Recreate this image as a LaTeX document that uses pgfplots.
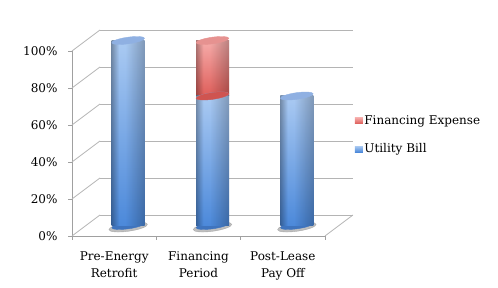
\documentclass[border=0pt]{standalone}
\usepackage{pgfplots}
\pgfplotsset{compat=1.18}
\usepackage{fontspec}
\setmainfont{DejaVu Serif}
\definecolor{gridgray}{HTML}{B4B4B4}
\definecolor{axgray}{HTML}{A0A0A0}
\definecolor{bTop}{HTML}{AACAF2}
\definecolor{bBot}{HTML}{4C89DA}
\definecolor{bBotE}{HTML}{3F74BE}
\definecolor{bCap}{HTML}{8FB0E2}
\definecolor{rTop}{HTML}{F6ACAA}
\definecolor{rBot}{HTML}{DE5E5A}
\definecolor{rBotE}{HTML}{CF5450}
\definecolor{rCap}{HTML}{E69290}
\pgfdeclarehorizontalshading{cylshade}{100bp}{color(0bp)=(black!30); color(25bp)=(black!30); color(36bp)=(white); color(46bp)=(white); color(75bp)=(black!24); color(100bp)=(black!24)}
\pgfplotsset{
  cyl/.style={width=253pt, height=185pt, scale only axis, xmin=-0.5, xmax=2.5,
    ymin=0, ymax=100, clip=false, anchor=south west, at={(86pt,62.5pt)},
    axis line style={draw=none}, xtick=\empty, ytick=\empty},
  bluebody/.style={draw=none, bar shift=0pt, top color=bTop, bottom color=bBot},
  redbody/.style={draw=none, bar shift=0pt, top color=rTop, bottom color=rBot},
  edges/.style={draw=none, bar shift=0pt, shading=cylshade, blend mode=multiply},
  ell/.style={only marks, mark=*, mark size=16.5pt, mark options={color=#1, fill=#1, rotate=8, yscale=0.2}},
}
\begin{document}
\begin{tikzpicture}[font=\fontsize{12}{14}\selectfont]
\path[use as bounding box] (0,0) rectangle (498pt,288pt);
% back wall grid
\begin{axis}[cyl, at={(100pt,73pt)}, ytick={0,20,40,60,80,100}, yticklabels={},
  ymajorgrids, major tick length=0pt, grid style={gridgray, line width=0.8pt}]
\addplot[draw=none] coordinates {(0,0)};
\end{axis}
% front frame
\begin{axis}[width=253pt, height=185pt, scale only axis, at={(72pt,52pt)}, anchor=south west,
  xmin=-0.5, xmax=2.5, ymin=0, ymax=100, clip=false,
  axis x line*=bottom, axis y line*=left, axis line style={axgray, line width=0.8pt},
  ytick={0,20,40,60,80,100}, yticklabel={\pgfmathprintnumber{\tick}\%},
  yticklabel style={xshift=-7pt},
  xtick={0,1,2}, xticklabels={{Pre-Energy\\Retrofit},{Financing\\Period},{Post-Lease\\Pay Off}},
  xticklabel style={align=center, font=\fontsize{12}{17}\selectfont, yshift=-8pt},
  minor xtick={-0.5,0.5,1.5,2.5}, major x tick style={draw=none},
  tick style={axgray, line width=0.8pt}, tick align=outside,
  major tick length=4pt, minor tick length=4pt,
  /pgf/number format/assume math mode=true]
\addplot[draw=none] coordinates {(0,0)};
\pgfplotsinvokeforeach{0,20,40,60,80,100}{\draw[gridgray, line width=0.8pt] (axis cs:-0.5,#1) -- ++(28pt,21pt);}
\draw[gridgray, line width=0.8pt] (axis cs:2.5,0) -- ++(28pt,21pt);
\end{axis}
% shadows and rounded cylinder bottoms
\begin{axis}[cyl]
\addplot[only marks, mark=*, mark size=16.5pt, mark options={color=black!50, fill=black!50, opacity=0.5, yshift=-1.5pt, rotate=8, xscale=1.18, yscale=0.26}]
  coordinates {(0,0) (1,0) (2,0)};
\addplot[ell=bBotE] coordinates {(0,0) (1,0) (2,0)};
\end{axis}
% single-series cylinders: Pre-Energy Retrofit and Post-Lease Pay Off (Utility Bill)
\begin{axis}[cyl, ybar, bar width=33pt]
\addplot[bluebody] coordinates {(0,100)};
\addplot[edges] coordinates {(0,100)};
\addplot[bluebody] coordinates {(2,70)};
\addplot[edges] coordinates {(2,70)};
\end{axis}
% stacked cylinder: Financing Period
\begin{axis}[cyl, ybar stacked, bar width=33pt,
  legend style={at={(1.062,0.49)}, anchor=west, draw=none, fill=none,
    row sep=15pt, font=\fontsize{12}{14}\selectfont, inner sep=0pt,
    nodes={inner sep=1.5pt}},
  legend cell align=left,
  reverse legend,
  legend image code/.code={\fill[#1] (0pt,-3pt) rectangle (8pt,3pt);}]
\addplot[bluebody] coordinates {(1,70)};
\addlegendentry{Utility Bill}
\addplot[redbody] coordinates {(1,30)};
\addlegendentry{Financing Expense}
\end{axis}
\begin{axis}[cyl, ybar stacked, bar width=33pt]
\addplot[edges] coordinates {(1,70)};
\addplot[edges] coordinates {(1,30)};
\end{axis}
% cylinder caps
\begin{axis}[cyl]
\addplot[ell=bCap] coordinates {(0,100) (1,70) (2,70)};
\addplot[ell=rBotE] coordinates {(1,70)};
\addplot[ell=rCap] coordinates {(1,100)};
\end{axis}
\end{tikzpicture}
\end{document}
